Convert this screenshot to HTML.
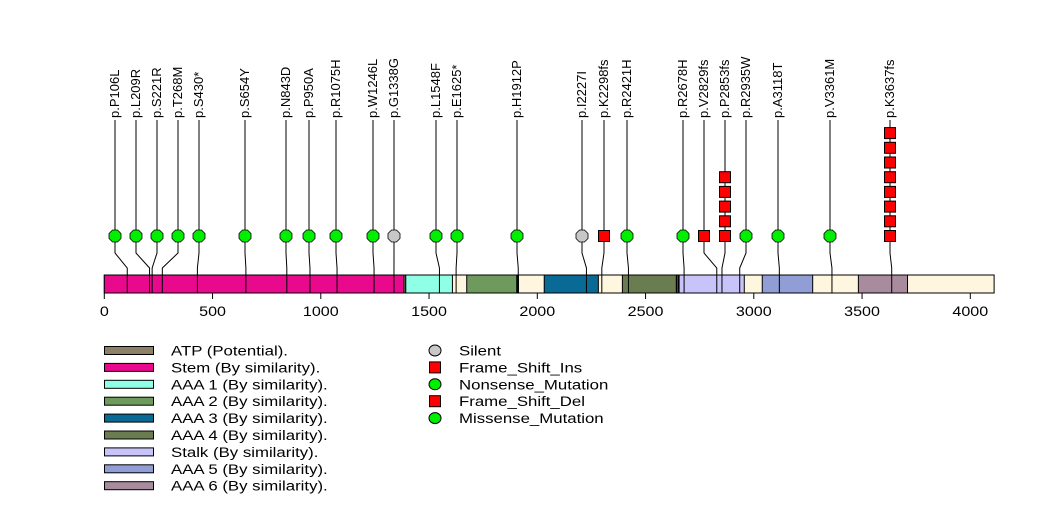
<!DOCTYPE html>
<html><head><meta charset="utf-8"><style>
body{margin:0;background:#fff}
svg{display:block;font-family:"Liberation Sans",sans-serif}
</style></head><body>
<svg id="c" width="1047" height="524"></svg>
<script>
const proteinLength = 4110;
const domainNames = ["Stem","AAA 1","AAA 2","AAA 3","AAA 4","Stalk","AAA 5","AAA 6","ATP","ATP","ATP"];
const domainStarts = [0,1392,1674,2032,2393,2655,3039,3483,1384,1908,2645];
const domainEnds = [1386,1608,1905,2282,2642,2956,3272,3710,1392,1913,2652];
const domainColors = {"Stem":"#E8098C","AAA 1":"#8FFFE6","AAA 2":"#6E9A5E","AAA 3":"#0A6A96","AAA 4":"#6A7D50","Stalk":"#C8C4FA","AAA 5":"#919ED6","AAA 6":"#A88C9E","ATP":"#8C8066"};
const mutLabels = ["p.P106L","p.L209R","p.S221R","p.T268M","p.S430*","p.S654Y","p.N843D","p.P950A","p.R1075H","p.W1246L","p.G1338G","p.L1548F","p.E1625*","p.H1912P","p.I2227I","p.K2298fs","p.R2421H","p.R2678H","p.V2829fs","p.P2853fs","p.R2935W","p.A3118T","p.V3361M","p.K3637fs"];
const mutPositions = [106,209,221,268,430,654,843,950,1075,1246,1338,1548,1625,1912,2227,2298,2421,2678,2829,2853,2935,3118,3361,3637];
const mutCounts = [1,1,1,1,1,1,1,1,1,1,1,1,1,1,1,1,1,1,1,5,1,1,1,8];
const mutTypes = ["m","m","m","m","n","m","m","m","m","m","s","m","n","m","s","fi","m","m","fd","fd","m","m","m","fd"];
const labelX = [115,136,157,178,199,245,286,309,336,373,394,436,457,517,582,604,627,683,704,725,746,778,830,890];
const ticks = [0,500,1000,1500,2000,2500,3000,3500,4000];

const NS="http://www.w3.org/2000/svg", svg=document.getElementById('c');
const X0=104.3, K=0.2165, xs=v=>X0+v*K;
function el(t,a,p){const e=document.createElementNS(NS,t);for(const k in a)e.setAttribute(k,a[k]);(p||svg).appendChild(e);return e;}
const BY=275,BH=18;
let bg=el('rect',{x:xs(0),y:BY,width:xs(proteinLength)-xs(0),height:BH,fill:'#FFF6DF',stroke:'#000'});


domainNames.forEach((n,i)=>{
  const r=el('rect',{x:xs(domainStarts[i]),y:BY,width:xs(domainEnds[i])-xs(domainStarts[i]),height:BH,fill:domainColors[n],stroke:'#000','stroke-width':1});
  
  
});
ticks.forEach(t=>{
  el('line',{x1:xs(t),x2:xs(t),y1:BY+BH,y2:BY+BH+6,stroke:'#000'});
  const tx=el('text',{x:0,y:0,'text-anchor':'middle','font-size':14,transform:`translate(${xs(t)},316) scale(1.15,1)`});tx.textContent=t;
  
  
});
const MY=236;
mutPositions.forEach((p,i)=>{
  const lx=labelX[i], px=xs(p);
  el('path',{d:`M${lx},120 L${lx},253 L${px},268 L${px},${BY+BH}`,fill:'none',stroke:'#000','stroke-width':1});
  const t=mutTypes[i];
  for(let k=0;k<mutCounts[i];k++){
    const y=MY-k*14.7;let m;
    if(t==='fi'||t==='fd') m=el('rect',{x:lx-5.5,y:y-5.5,width:11,height:11,fill:'#F00',stroke:'#000'});
    else m=el('polygon',{points:[[-6,-2.5],[-2.5,-6],[2.5,-6],[6,-2.5],[6,2.5],[2.5,6],[-2.5,6],[-6,2.5]].map(q=>(lx+q[0])+','+(y+q[1])).join(' '),fill:t==='s'?'#C8C8C8':'#00EE00',stroke:'#000','stroke-width':0.8});
    
    
  }
  const tx=el('text',{x:0,y:0,'font-size':13,transform:`translate(${lx+4},118) rotate(-90)`});tx.textContent=mutLabels[i];
  
  
});
const legDom=["ATP (Potential).","Stem (By similarity).","AAA 1 (By similarity).","AAA 2 (By similarity).","AAA 3 (By similarity).","AAA 4 (By similarity).","Stalk (By similarity).","AAA 5 (By similarity).","AAA 6 (By similarity)."];
const legCol=["ATP","Stem","AAA 1","AAA 2","AAA 3","AAA 4","Stalk","AAA 5","AAA 6"];
legDom.forEach((s,i)=>{
  const y=350.5+i*16.9;
  const r=el('rect',{x:104.5,y:y-4,width:49,height:8,fill:domainColors[legCol[i]],stroke:'#000'});
  
  
  const t=el('text',{x:0,y:0,'font-size':14,transform:`translate(171,${y+5}) scale(1.2,1)`});t.textContent=s;
  
  
});
const legMut=[["Silent","s"],["Frame_Shift_Ins","f"],["Nonsense_Mutation","n"],["Frame_Shift_Del","f"],["Missense_Mutation","n"]];
legMut.forEach((m,i)=>{
  const y=350.5+i*16.9;let e;
  if(m[1]==='f') e=el('rect',{x:429.5,y:y-5.5,width:11,height:11,fill:'#F00',stroke:'#000'});
  else e=el('ellipse',{cx:435,cy:y,rx:6,ry:5.5,fill:m[1]==='s'?'#C8C8C8':'#00EE00',stroke:'#000'});
  
  
  const t=el('text',{x:0,y:0,'font-size':14,transform:`translate(459,${y+5}) scale(1.2,1)`});t.textContent=m[0];
  
  
});
</script>
</body></html>
